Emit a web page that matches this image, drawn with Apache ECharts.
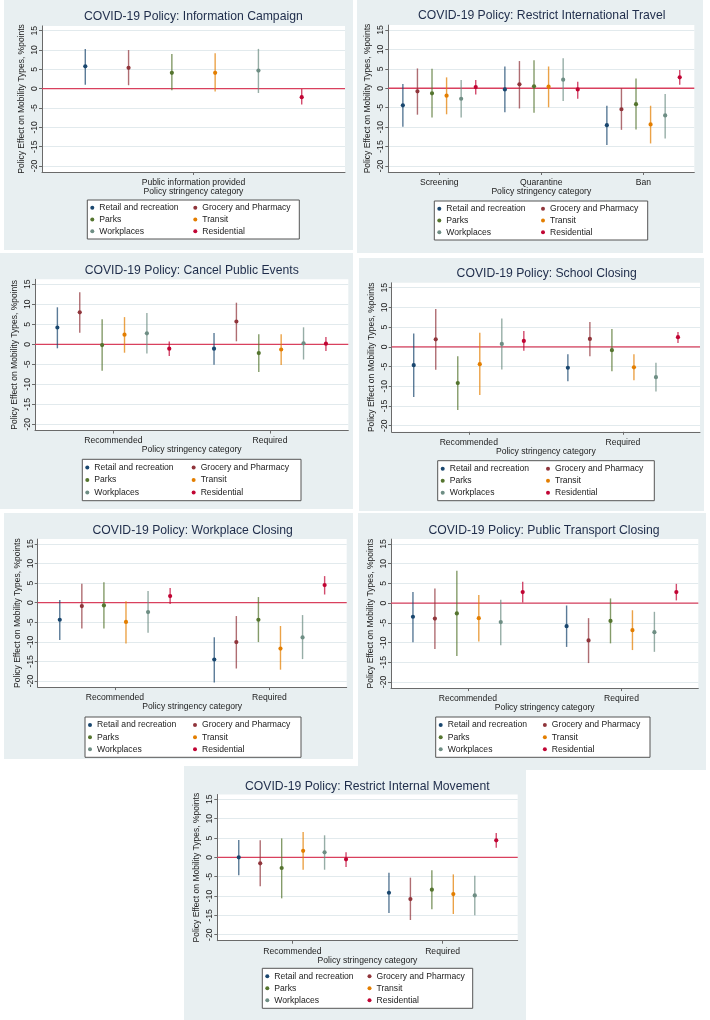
<!DOCTYPE html>
<html><head><meta charset="utf-8">
<script src="https://cdn.jsdelivr.net/npm/echarts@6/dist/echarts.min.js"></script>
<style>
html,body{margin:0;padding:0;background:#fff;}
body{width:710px;height:1020px;position:relative;overflow:hidden;}
.panel{position:absolute;}
</style></head><body>
<div id="p1" class="panel"></div><div id="p2" class="panel"></div>
<div id="p3" class="panel"></div><div id="p4" class="panel"></div>
<div id="p5" class="panel"></div><div id="p6" class="panel"></div>
<div id="p7" class="panel"></div>
<script>
// ---------- DATA ----------
const seriesNames = ['Retail and recreation','Grocery and Pharmacy','Parks','Transit','Workplaces','Residential'];
const yTickValues = [-20,-15,-10,-5,0,5,10,15];
const referenceLineValue = [0];
const xAxisTitle = 'Policy stringency category';
const yAxisTitle = 'Policy Effect on Mobility Types, %points';

// rows = series (in seriesNames order), columns = categories
const infoTitle = 'COVID-19 Policy: Information Campaign';
const infoCategories = ['Public information provided'];
const infoEst = [[5.8],[5.4],[4.1],[4.1],[4.7],[-2.2]];
const infoLo  = [[1.0],[0.9],[-0.4],[-0.7],[-1.1],[-4.1]];
const infoHi  = [[10.3],[10.0],[9.0],[9.2],[10.3],[-0.1]];

const travelTitle = 'COVID-19 Policy: Restrict International Travel';
const travelCategories = ['Screening','Quarantine','Ban'];
const travelEst = [[-4.4,-0.3,-9.5],[-0.8,1.0,-5.4],[-1.3,0.5,-4.1],[-1.9,0.4,-9.3],[-2.7,2.2,-7.0],[0.3,-0.3,2.8]];
const travelLo  = [[-9.9,-6.2,-14.6],[-6.8,-5.2,-10.7],[-7.5,-6.3,-10.6],[-6.7,-4.9,-14.2],[-7.5,-3.3,-12.9],[-1.6,-2.7,0.9]];
const travelHi  = [[1.1,5.6,-4.5],[5.1,7.0,0.0],[5.0,7.2,2.5],[2.8,5.6,-4.5],[2.1,7.7,-1.5],[2.1,1.7,4.7]];

const eventsTitle = 'COVID-19 Policy: Cancel Public Events';
const eventsCategories = ['Recommended','Required'];
const eventsEst = [[4.2,-1.1],[8.0,5.7],[-0.2,-2.2],[2.4,-1.3],[2.75,0.25],[-1.1,0.15]];
const eventsLo  = [[-1.0,-5.1],[2.9,0.75],[-6.6,-6.9],[-2.1,-5.2],[-2.3,-3.8],[-2.9,-1.7]];
const eventsHi  = [[9.25,2.8],[13.0,10.4],[6.25,2.5],[6.8,2.5],[7.8,4.25],[0.7,1.8]];

const schoolTitle = 'COVID-19 Policy: School Closing';
const schoolCategories = ['Recommended','Required'];
const schoolEst = [[-4.65,-5.3],[1.9,2.0],[-9.2,-0.85],[-4.4,-5.2],[0.75,-7.7],[1.5,2.45]];
const schoolLo  = [[-12.7,-8.7],[-5.8,-2.4],[-16.0,-6.2],[-12.2,-8.45],[-5.75,-11.3],[-1.0,1.0]];
const schoolHi  = [[3.4,-1.9],[9.6,6.3],[-2.4,4.5],[3.55,-1.9],[7.2,-4.05],[4.0,3.8]];

const workTitle = 'COVID-19 Policy: Workplace Closing';
const workCategories = ['Recommended','Required'];
const workEst = [[-4.35,-14.5],[-0.85,-10.05],[-0.7,-4.35],[-4.9,-11.7],[-2.4,-8.85],[1.7,4.5]];
const workLo  = [[-9.5,-20.4],[-6.6,-16.8],[-6.6,-10.05],[-10.4,-17.1],[-7.7,-14.4],[-0.35,2.1]];
const workHi  = [[0.7,-8.8],[4.85,-3.4],[5.2,1.45],[0.4,-5.95],[3.0,-3.15],[3.75,6.8]];

const transportTitle = 'COVID-19 Policy: Public Transport Closing';
const transportCategories = ['Recommended','Required'];
const transportEst = [[-3.45,-5.85],[-3.9,-9.45],[-2.6,-4.5],[-3.8,-6.85],[-4.8,-7.35],[2.8,2.8]];
const transportLo  = [[-9.9,-11.1],[-11.6,-15.2],[-13.4,-10.2],[-9.7,-11.9],[-10.65,-12.35],[0.15,0.7]];
const transportHi  = [[2.8,-0.6],[3.7,-3.8],[8.2,1.2],[2.1,-1.8],[0.85,-2.2],[5.4,4.9]];

const internalTitle = 'COVID-19 Policy: Restrict Internal Movement';
const internalCategories = ['Recommended','Required'];
const internalEst = [[0.0,-9.15],[-1.55,-10.8],[-2.75,-8.35],[1.7,-9.5],[1.3,-9.85],[-0.5,4.4]];
const internalLo  = [[-4.65,-14.4],[-7.5,-16.2],[-10.6,-13.45],[-3.2,-14.65],[-3.2,-15.0],[-2.5,2.5]];
const internalHi  = [[4.5,-3.95],[4.4,-5.25],[4.9,-3.35],[6.55,-4.4],[5.7,-4.75],[1.3,6.3]];

// ---------- STYLE / LAYOUT ----------
const seriesColors = ['#1a476f','#90353b','#55752f','#e37e00','#6e8e84','#c10534'];
const FONT = '"Liberation Sans", Arial, Helvetica, sans-serif';
const panelBg = '#e8eff1';
const Y_MIN = -21.55, Y_MAX = 16.25;

const panels = [
  {id:'p1', title:infoTitle, cats:infoCategories, est:infoEst, lo:infoLo, hi:infoHi,
   div:[4,0,349,250], grid:[42,345,25.9,172], t:[193.3,17], lg:[87.3,200,212,39]},
  {id:'p2', title:travelTitle, cats:travelCategories, est:travelEst, lo:travelLo, hi:travelHi,
   div:[357,0,346,253], grid:[388.3,694.3,25.1,172], t:[541.7,16], lg:[434.3,201,213.4,39]},
  {id:'p3', title:eventsTitle, cats:eventsCategories, est:eventsEst, lo:eventsLo, hi:eventsHi,
   div:[0,253,353,256], grid:[35,348.3,279.3,430.5], t:[191.7,270.7], lg:[82.3,459.3,218.7,41.4]},
  {id:'p4', title:schoolTitle, cats:schoolCategories, est:schoolEst, lo:schoolLo, hi:schoolHi,
   div:[359,258,345,253], grid:[391.7,700,282.8,431.8], t:[546.7,274], lg:[437.7,460.7,216.6,40]},
  {id:'p5', title:workTitle, cats:workCategories, est:workEst, lo:workLo, hi:workHi,
   div:[4,513,349,246], grid:[37.7,346.7,539.1,687.1], t:[192.7,531], lg:[85,717,216,40.3]},
  {id:'p6', title:transportTitle, cats:transportCategories, est:transportEst, lo:transportLo, hi:transportHi,
   div:[358,513,348,257], grid:[391,698.3,539.1,688.1], t:[544,531], lg:[435.7,717,214.3,40.3]},
  {id:'p7', title:internalTitle, cats:internalCategories, est:internalEst, lo:internalLo, hi:internalHi,
   div:[184,766,342,254], grid:[217.3,517.7,794.5,940.7], t:[367.3,786.7], lg:[262.3,968.3,210.4,40]}
];

function buildPanel(p) {
  const [dx, dy, dw, dh] = p.div;
  const el = document.getElementById(p.id);
  el.style.left = dx + 'px'; el.style.top = dy + 'px';
  el.style.width = dw + 'px'; el.style.height = dh + 'px';
  const chart = echarts.init(el, null, {renderer: 'canvas', width: dw, height: dh});
  const [gl, gr, gt, gb] = p.grid;
  const [lx, ly, lw, lh] = p.lg;
  const colW = (lw - 6) / 2;
  const rowH = (lh - 4) / 3;

  // reference line at y = 0, drawn through the axis scale, under the data
  const series = [{
    type: 'custom', name: 'zero', silent: true, z: 1,
    encode: {y: 0},
    data: referenceLineValue.map(v => [v]),
    renderItem: function (params, api) {
      const cs = params.coordSys;
      const y = api.coord([0, api.value(0)])[1];
      return {type: 'line', shape: {x1: cs.x, y1: y, x2: cs.x + cs.width, y2: y},
        style: {stroke: '#d9405e', lineWidth: 1.3}};
    }
  }];

  seriesNames.forEach((name, si) => series.push({
    name: name,
    type: 'custom',
    itemStyle: {color: seriesColors[si]},
    encode: {x: 0, y: [1, 2, 3]},
    z: 3,
    data: p.cats.map((c, ci) => [ci, p.est[si][ci], p.lo[si][ci], p.hi[si][ci]]),
    renderItem: function (params, api) {
      const ci = api.value(0);
      const bw = api.size([1, 0])[0];
      const off = bw * (si - 2.5) / 7;
      const pe = api.coord([ci, api.value(1)]);
      const pl = api.coord([ci, api.value(2)]);
      const ph = api.coord([ci, api.value(3)]);
      const x = pe[0] + off;
      return {
        type: 'group',
        children: [
          {type: 'line', shape: {x1: x, y1: ph[1], x2: x, y2: pl[1]},
           style: {stroke: seriesColors[si], lineWidth: 1.4, opacity: 0.72}},
          {type: 'circle', shape: {cx: x, cy: pe[1], r: 2.1},
           style: {fill: seriesColors[si]}}
        ]
      };
    }
  }));

  const option = {
    animation: false,
    backgroundColor: panelBg,
    textStyle: {fontFamily: FONT},
    graphic: [{
      type: 'text', x: p.t[0] - dx, y: p.t[1] - dy,
      style: {text: p.title, align: 'center', verticalAlign: 'middle',
        font: '12.2px ' + FONT, fill: '#1e2c4a'}
    }],
    grid: {left: gl - dx, top: gt - dy, width: gr - gl, height: gb - gt,
      containLabel: false, outerBoundsMode: 'none',
      show: true, backgroundColor: '#ffffff', borderWidth: 0},
    legend: {
      data: seriesNames, selectedMode: false,
      left: lx - dx, top: ly - dy, width: 2 * colW + 1,
      orient: 'horizontal', itemGap: 0, itemWidth: 4, itemHeight: 4, icon: 'circle',
      padding: [2, 3, 2, 3], backgroundColor: '#ffffff', borderColor: '#555', borderWidth: 1,
      textStyle: {fontSize: 8.6, color: '#222', width: colW - 9, lineHeight: rowH, fontFamily: FONT}
    },
    xAxis: {
      type: 'category', data: p.cats, boundaryGap: true,
      axisLine: {show: true, onZero: false, lineStyle: {color: '#6a6a6a', width: 1}},
      axisTick: {show: true, alignWithLabel: true, length: 3, lineStyle: {color: '#6a6a6a'}},
      axisLabel: {margin: 6, fontSize: 8.6, color: '#222', fontFamily: FONT},
      splitLine: {show: false},
      name: xAxisTitle, nameLocation: 'middle', nameGap: 15, nameMoveOverlap: false,
      nameTextStyle: {fontSize: 8.6, color: '#222', fontFamily: FONT}
    },
    yAxis: {
      type: 'value', min: Y_MIN, max: Y_MAX,
      axisLine: {show: true, onZero: false, lineStyle: {color: '#6a6a6a', width: 1}},
      axisTick: {show: true, length: 3, lineStyle: {color: '#6a6a6a'}, customValues: yTickValues},
      axisLabel: {rotate: 90, margin: 3, fontSize: 8.6, color: '#222', fontFamily: FONT,
        customValues: yTickValues},
      splitLine: {show: true, lineStyle: {color: '#e2eaed', width: 1}},
      name: yAxisTitle, nameLocation: 'middle', nameGap: 16, nameRotate: 90, nameMoveOverlap: false,
      nameTextStyle: {fontSize: 8.5, color: '#222', fontFamily: FONT}
    },
    series: series
  };
  chart.setOption(option);
}
panels.forEach(buildPanel);
</script>
</body></html>
